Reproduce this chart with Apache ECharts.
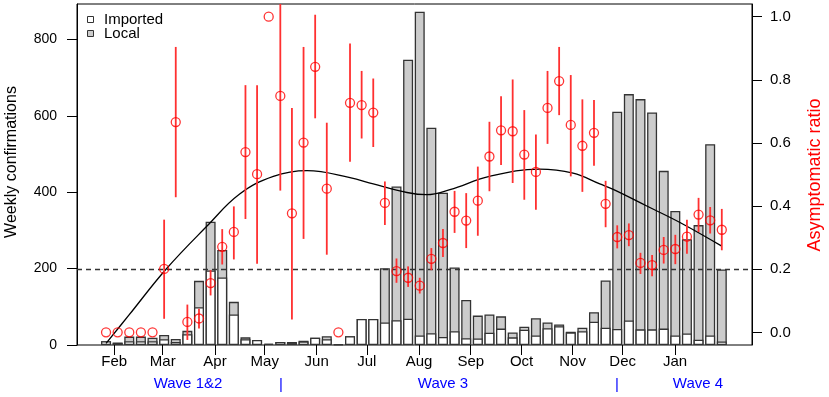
<!DOCTYPE html>
<html>
<head>
<meta charset="utf-8">
<script src="https://cdn.jsdelivr.net/npm/echarts@6/dist/echarts.min.js"></script>
<style>html,body{margin:0;padding:0;background:#fff}#c{width:829px;height:397px}</style>
</head>
<body>
<div id="c"></div>
<script>
// ---- data (weekly, index 0 = first week in late January) ----
var imported = [10,6,10,10,10,15,8,28,99,195,177,80,15,13,3,8,5,9,19,15,2,23,68,68,59,65,69,25,31,21,36,18,17,32,43,20,40,25,44,49,33,36,61,45,42,64,41,41,43,25,30,14,25,9];
var local    = [0,0,12,12,9,11,8,9,69,128,72,33,5,0,0,0,3,2,0,8,0,0,0,0,142,350,678,848,538,378,167,100,60,48,32,13,8,45,15,5,2,9,25,124,569,593,603,568,413,326,247,300,501,189];
var ratio    = [0,0,0,0,0,0.201,0.666,0.033,0.044,0.156,0.271,0.318,0.571,0.501,1.0,0.749,0.377,0.601,0.841,0.455,0,0.727,0.72,0.696,0.41,0.194,0.173,0.148,0.233,0.283,0.382,0.354,0.417,0.557,0.64,0.637,0.563,0.508,0.711,0.796,0.657,0.591,0.632,0.407,0.302,0.308,0.22,0.213,0.261,0.264,0.303,0.373,0.355,0.325];
var ratioLo  = [null,null,null,null,null,0.043,0.428,-0.024,0.012,0.117,0.215,0.231,0.359,0.217,null,0.449,0.041,0.296,0.678,0.246,null,0.54,0.614,0.587,0.34,0.157,0.144,0.123,0.197,0.239,0.315,0.267,0.306,0.447,0.53,0.473,0.42,0.388,0.597,0.688,0.494,0.445,0.528,0.333,0.266,0.273,0.185,0.178,0.218,0.216,0.249,0.318,0.313,0.26];
var ratioHi  = [null,null,null,null,null,0.357,0.904,0.088,0.075,0.197,0.327,0.399,0.783,0.783,null,1.1,0.711,0.904,1.006,0.664,null,0.915,0.828,0.804,0.478,0.234,0.209,0.173,0.267,0.327,0.448,0.441,0.525,0.667,0.748,0.801,0.704,0.627,0.828,0.904,0.815,0.738,0.736,0.48,0.339,0.345,0.252,0.245,0.302,0.309,0.357,0.426,0.397,0.391];
// smoothed trend of asymptomatic ratio (week position, value)
var trendWeek = [0,2,5.16,8.67,11.5,14.4,17.3,21,23,25.9,27.6,29.6,33,37.3,40.2,42.5,43.7,46.5,49.4,53];
var trendVal  = [-0.035,0.056,0.2,0.336,0.438,0.494,0.512,0.49,0.47,0.443,0.436,0.452,0.494,0.517,0.504,0.47,0.452,0.401,0.348,0.273];
// month ticks (position in weeks)
var monthNames = ['Feb','Mar','Apr','May','Jun','Jul','Aug','Sep','Oct','Nov','Dec','Jan'];
var monthPos   = [0.71,4.88,9.38,13.66,18.13,22.44,26.94,31.39,35.77,40.16,44.47,48.97];
var leftTicks  = [0,200,400,600,800];
var rightTicks = [0,0.2,0.4,0.6,0.8,1.0];
var waveLabels = ['Wave 1&2','|','Wave 3','|','Wave 4'];

var FONT = 'Liberation Sans, Arial, Helvetica, sans-serif';
var importedData = imported.map(function(v,i){return [i,v];});
// stacked top of bar = imported + local (drawn behind the imported segment)
var totalData = local.map(function(v,i){return [i,v+imported[i]];});
var ratioData = ratio.map(function(v,i){return [i,v];});
var errData = [];
ratioLo.forEach(function(lo,i){ if(lo!==null && ratioHi[i]!==null) errData.push([i,lo,ratioHi[i]]); });
var trendData = trendWeek.map(function(w,i){return [w,trendVal[i]];});

var chart = echarts.init(document.getElementById('c'));
chart.setOption({
  animation:false,
  textStyle:{fontFamily:FONT},
  grid:{left:77,right:77,top:4,bottom:52,show:true,borderColor:'#000',borderWidth:1,backgroundColor:'transparent'},
  xAxis:{type:'value',min:-2.5,max:55.6,
    axisLine:{show:false,onZero:false},splitLine:{show:false},
    axisTick:{show:true,length:10,lineStyle:{color:'#000'},customValues:monthPos},
    axisLabel:{color:'#000',fontSize:15,fontFamily:FONT,margin:9,customValues:monthPos,
      formatter:function(v){for(var i=0;i<monthPos.length;i++){if(Math.abs(monthPos[i]-v)<1e-6)return monthNames[i];}return '';}}
  },
  yAxis:[
    {type:'value',min:0,max:893,position:'left',
      axisLine:{show:true,onZero:false,lineStyle:{color:'#000'}},splitLine:{show:false},
      axisTick:{show:true,length:10,lineStyle:{color:'#000'},customValues:leftTicks},
      axisLabel:{color:'#000',fontSize:14,fontFamily:FONT,margin:20,customValues:leftTicks}},
    {type:'value',min:-0.04,max:1.04,position:'right',
      axisLine:{show:true,onZero:false,lineStyle:{color:'#000'}},splitLine:{show:false},
      axisTick:{show:true,length:10,lineStyle:{color:'#000'},customValues:rightTicks},
      axisLabel:{color:'#000',fontSize:15,fontFamily:FONT,margin:18,customValues:rightTicks,
        formatter:function(v){return v.toFixed(1);}}}
  ],
  series:[
    {name:'Local',type:'bar',data:totalData,barWidth:10,barGap:'-100%',
      itemStyle:{color:'#cccccc',borderColor:'#333',borderWidth:1.3},z:2},
    {name:'Imported',type:'bar',data:importedData,barWidth:10,barGap:'-100%',
      itemStyle:{color:'#ffffff',borderColor:'#333',borderWidth:1.3},z:3},
    {type:'line',yAxisIndex:1,data:trendData,smooth:0.4,showSymbol:false,symbol:'none',
      lineStyle:{color:'#000',width:1.3},z:4,
      markLine:{silent:true,symbol:'none',label:{show:false},
        lineStyle:{color:'#333',type:[5,4],width:1.3},data:[{yAxis:0.2}]}},
    {type:'custom',yAxisIndex:1,data:errData,clip:true,z:5,
      renderItem:function(params,api){
        var x=api.value(0);
        var p1=api.coord([x,api.value(1)]);
        var p2=api.coord([x,api.value(2)]);
        return {type:'line',shape:{x1:p1[0],y1:p1[1],x2:p2[0],y2:p2[1]},
          style:{stroke:'#ff3030',lineWidth:1.8}};
      }},
    {type:'scatter',yAxisIndex:1,data:ratioData,symbol:'circle',symbolSize:9,z:6,
      itemStyle:{color:'rgba(0,0,0,0)',borderColor:'#ff0000',borderWidth:1.3}}
  ],
  graphic:[
    {type:'rect',left:87,top:16,shape:{width:6,height:6},style:{fill:'#fff',stroke:'#333',lineWidth:1}},
    {type:'rect',left:87,top:30,shape:{width:6,height:6},style:{fill:'#ccc',stroke:'#333',lineWidth:1}},
    {type:'text',x:104,y:20,style:{text:'Imported',fill:'#000',font:'15px '+FONT,textVerticalAlign:'middle'}},
    {type:'text',x:104,y:34,style:{text:'Local',fill:'#000',font:'15px '+FONT,textVerticalAlign:'middle'}},
    {type:'text',x:12,y:162,rotation:Math.PI/2,style:{text:'Weekly confirmations',fill:'#000',font:'16px '+FONT,textAlign:'center',textVerticalAlign:'middle'}},
    {type:'text',x:815,y:175,rotation:Math.PI/2,style:{text:'Asymptomatic ratio',fill:'#ff0000',font:'18px '+FONT,textAlign:'center',textVerticalAlign:'middle'}},
    {type:'text',x:188,y:384,style:{text:waveLabels[0],fill:'#0000ff',font:'15px '+FONT,textAlign:'center',textVerticalAlign:'middle'}},
    {type:'text',x:281,y:385,style:{text:waveLabels[1],fill:'#0000ff',font:'15px '+FONT,textAlign:'center',textVerticalAlign:'middle'}},
    {type:'text',x:443,y:384,style:{text:waveLabels[2],fill:'#0000ff',font:'15px '+FONT,textAlign:'center',textVerticalAlign:'middle'}},
    {type:'text',x:617,y:385,style:{text:waveLabels[3],fill:'#0000ff',font:'15px '+FONT,textAlign:'center',textVerticalAlign:'middle'}},
    {type:'text',x:698,y:384,style:{text:waveLabels[4],fill:'#0000ff',font:'15px '+FONT,textAlign:'center',textVerticalAlign:'middle'}}
  ]
});
</script>
</body>
</html>
